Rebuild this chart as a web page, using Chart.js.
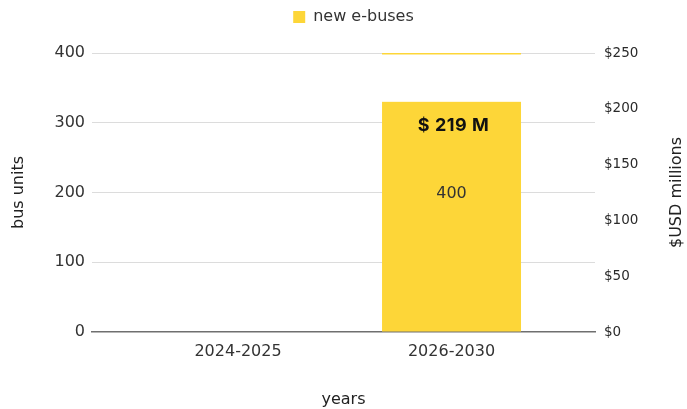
<!DOCTYPE html>
<html>
<head>
<meta charset="utf-8">
<script src="https://cdn.jsdelivr.net/npm/chart.js@4/dist/chart.umd.min.js"></script>
<style>
  html, body { margin: 0; padding: 0; background: #fff; }
  #wrap { width: 687px; height: 409px; }
</style>
</head>
<body>
<div id="wrap"><canvas id="c" width="687" height="409"></canvas></div>
<script>
// ---- data ----
const categories = ['2024-2025', '2026-2030'];
const busUnits = [0, 400];
const costLabels = ['', '$ 219 M'];
const busTicks = [0, 100, 200, 300, 400];
const usdTicks = [0, 50, 100, 150, 200, 250];
const seriesName = 'new e-buses';
const rightTitle = '$USD millions';
const overlayFloor = 330; // lower edge (bus units) of the white label box seen over the bar top

const yellow = '#FDD638';

const overlayPlugin = {
  id: 'barOverlay',
  afterDatasetsDraw(chart) {
    const ctx = chart.ctx;
    const meta = chart.getDatasetMeta(0);
    const yScale = chart.scales.y;
    meta.data.forEach((bar, i) => {
      if (!busUnits[i]) return;
      const half = bar.width / 2;
      const boxTop = bar.y + 1.5;
      const boxBottom = yScale.getPixelForValue(overlayFloor);
      ctx.save();
      ctx.fillStyle = '#ffffff';
      ctx.fillRect(bar.x - half - 9, boxTop, bar.width + 12, boxBottom - boxTop);
      ctx.fillStyle = '#333';
      ctx.font = '16px "DejaVu Sans"';
      ctx.textAlign = 'center';
      ctx.textBaseline = 'middle';
      ctx.fillText(String(busUnits[i]), bar.x, (bar.y + bar.base) / 2 + 2);
      ctx.fillStyle = '#111';
      ctx.font = 'bold 18px Inter';
      if ('letterSpacing' in ctx) ctx.letterSpacing = '0.5px';
      ctx.fillText(costLabels[i], bar.x + 2, boxBottom + 24);
      ctx.restore();
    });
  },
  afterDraw(chart) {
    const ctx = chart.ctx;
    const area = chart.chartArea;
    ctx.save();
    ctx.translate(chart.width - 10, (area.top + area.bottom) / 2);
    ctx.rotate(-Math.PI / 2);
    ctx.fillStyle = '#222';
    ctx.font = '16px "DejaVu Sans"';
    ctx.textAlign = 'center';
    ctx.textBaseline = 'middle';
    ctx.fillText(rightTitle, 0, 0);
    ctx.restore();
  }
};

const legendPlugin = {
  id: 'legendTweak',
  afterInit(chart) {
    const lg = chart.legend;
    const orig = lg.fit;
    lg.fit = function () { orig.call(this); this.height = 53; };
  },
  afterUpdate(chart) {
    chart.legend.left += 10;
    chart.legend.right += 10;
  }
};

new Chart(document.getElementById('c'), {
  type: 'bar',
  data: {
    datasets: [{
      label: seriesName,
      data: busUnits.map((v, i) => ({ x: i + 1, y: v })),
      backgroundColor: yellow,
      borderWidth: 0,
      barPercentage: 0.651,
      categoryPercentage: 1.0,
      yAxisID: 'y'
    }]
  },
  options: {
    responsive: false,
    animation: false,
    layout: { padding: 0 },
    plugins: {
      legend: {
        position: 'top',
        labels: {
          boxWidth: 12, boxHeight: 12, padding: 9,
          color: '#333',
          font: { family: 'DejaVu Sans', size: 16 }
        }
      },
      tooltip: { enabled: false }
    },
    scales: {
      x: {
        type: 'linear',
        min: 0.316, max: 2.672,
        offset: false,
        grid: { display: false, offset: false, drawTicks: false },
        border: { display: true, color: '#6f6f6f', width: 1.5 },
        afterBuildTicks(scale) { scale.ticks = categories.map((c, i) => ({ value: i + 1 })); },
        ticks: {
          callback: (v) => categories[v - 1] || '',
          color: '#333',
          padding: 10,
          font: { family: 'DejaVu Sans', size: 16 },
          maxRotation: 0
        },
        title: {
          display: true, text: 'years', color: '#222',
          font: { family: 'DejaVu Sans', size: 16 },
          padding: { top: 0, bottom: 0 }
        },
        afterFit(scale) { scale.height = 77; }
      },
      y: {
        position: 'left',
        min: busTicks[0], max: busTicks[busTicks.length - 1],
        afterBuildTicks(scale) { scale.ticks = busTicks.map(v => ({ value: v })); },
        grid: {
          drawTicks: false,
          color: (c) => c.tick && c.tick.value === 0 ? 'rgba(0,0,0,0)' : '#dcdcdc',
          lineWidth: 1
        },
        border: { display: false },
        ticks: {
          color: '#333', padding: 7,
          font: { family: 'DejaVu Sans', size: 16 }
        },
        title: {
          display: true, text: 'bus units', color: '#222',
          font: { family: 'DejaVu Sans', size: 16 },
          padding: { top: 9, bottom: 0 }
        },
        afterFit(scale) { scale.width = 92; }
      },
      y2: {
        position: 'right',
        min: usdTicks[0], max: usdTicks[usdTicks.length - 1],
        afterBuildTicks(scale) { scale.ticks = usdTicks.map(v => ({ value: v })); },
        grid: { display: false, drawTicks: false },
        border: { display: false },
        ticks: {
          color: '#2a2a2a', padding: 9,
          font: { family: 'DejaVu Sans', size: 13.5 },
          callback: (v) => '$' + v
        },
        title: { display: false },
        afterFit(scale) { scale.width = 92; }
      }
    }
  },
  plugins: [overlayPlugin, legendPlugin]
});
</script>
</body>
</html>
